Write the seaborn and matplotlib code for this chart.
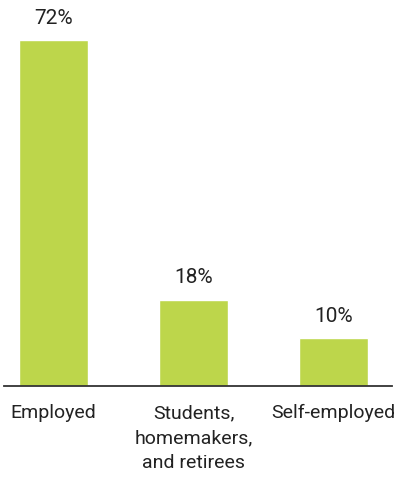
import matplotlib
matplotlib.use("Agg")
import matplotlib.pyplot as plt
import seaborn as sns
import pandas as pd

categories = ["Employed", "Students,\nhomemakers,\nand retirees", "Self-employed"]
values = [72, 18, 10]
labels = ["72%", "18%", "10%"]

df = pd.DataFrame({"category": categories, "share": values})

sns.set_theme(style="white")
plt.rcParams["font.family"] = ["Roboto", "DejaVu Sans"]

fig = plt.figure(figsize=(3.95, 4.86), dpi=100)
ax = fig.add_axes([4 / 395, 100 / 486, 388 / 395, 384 / 486])

sns.barplot(data=df, x="category", y="share", color="#bdd64b", width=0.49,
            saturation=1, ax=ax)

ax.set_xlim(-0.355, 2.42)
ax.set_ylim(0, 80)

for i, (v, lab) in enumerate(zip(values, labels)):
    ax.annotate(lab, (i, v), xytext=(0, 9), textcoords="offset points",
                ha="center", va="bottom", fontsize=15, color="#222222")

for s in ["top", "right", "left"]:
    ax.spines[s].set_visible(False)
ax.spines["bottom"].set_color("#333333")
ax.spines["bottom"].set_linewidth(1.3)

ax.set_yticks([])
ax.set_xlabel("")
ax.set_ylabel("")
ax.tick_params(axis="x", length=0, pad=13, labelsize=14, labelcolor="#222222")
for t in ax.get_xticklabels():
    t.set_linespacing(1.5)
    t.set_verticalalignment("top")

fig.savefig("out.png", dpi=100)
